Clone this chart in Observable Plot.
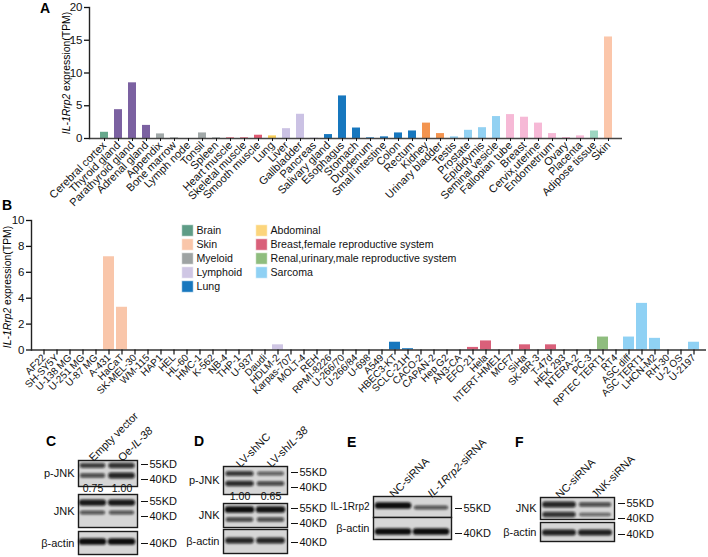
<!DOCTYPE html>
<html><head><meta charset="utf-8">
<script src="https://cdn.jsdelivr.net/npm/d3@7"></script>
<script src="https://cdn.jsdelivr.net/npm/@observablehq/plot@0.6"></script>
<style>
body{margin:0;background:#fff;}
#root{position:relative;width:708px;height:557px;overflow:hidden;background:#fff;font-family:Arial,"Liberation Sans",Helvetica,sans-serif;}
#root svg{position:absolute;overflow:visible;}
</style></head><body><div id="root"></div>
<script>
// ---------- Panel A: normal tissues ----------
const tissues = ["Cerebral cortex","Thyroid gland","Parathyroid gland","Adrenal gland","Appendix","Bone marrow","Lymph node","Tonsil","Spleen","Heart muscle","Skeletal muscle","Smooth muscle","Lung","Liver","Gallbladder","Pancreas","Salivary gland","Esophagus","Stomach","Duodenum","Small intestine","Colon","Rectum","Kidney","Urinary bladder","Testis","Prostate","Epididymis","Seminal vesicle","Fallopian tube","Breast","Cervix,uterine","Endometrium","Ovary","Placenta","Adipose tissue","Skin"];
const tissueTPM = [0.95,4.4,8.5,2.0,0.7,0.1,0,0.85,0.1,0.1,0.1,0.5,0.4,1.5,3.7,0.05,0.6,6.5,1.6,0.1,0.25,0.85,1.15,2.35,0.75,0.25,1.25,1.65,3.35,3.65,3.25,2.35,0.75,0.15,0.4,1.15,15.5];
const tissueGroup = ["Brain","Endocrine","Endocrine","Endocrine","Lymphoid","Lymphoid","Lymphoid","Lymphoid","Lymphoid","Muscle","Muscle","Muscle","Lung","Liver","Liver","Pancreas","GI","GI","GI","GI","GI","GI","GI","Kidney","Kidney","Male","Male","Male","Male","Female","Female","Female","Female","Female","Female","Adipose","Skin"];
const tissueGroupNames = ["Brain","Endocrine","Lymphoid","Muscle","Lung","Liver","Pancreas","GI","Kidney","Male","Female","Adipose","Skin"];
const tissueGroupColors = ["#66a88c","#7b61a1","#a2a9a9","#e05a72","#f7cd58","#cbc2e4","#cbc2e4","#1777be","#f3944f","#92d1f2","#f6b9d6","#9dd6c1","#fbc6aa"];

// ---------- Panel B: cell lines ----------
const cellLines = ["AF22","SH-SY5Y","U-138 MG","U-251 MG","U-87 MG","A-431","HaCaT","SK-MEL-30","WM-115","HAP1","HEL","HL-60","HMC-1","K-562","NB-4","THP-1","U-937","Daudi","HDLM-2","Karpas-707","MOLT-4","REH","RPMI-8226","U-266/70","U-266/84","U-698","A549","HBEC3-KT","SCLC-21H","CACO-2","CAPAN-2","Hep G2","AN3-CA","EFO-21","Hela","hTERT-HME1","MCF7","SiHa","SK-BR-3","T-47d","HEK 293","NTERA-2","PC-3","RPTEC TERT1","RT4","ASC diff","ASC TERT1","LHCN-M2","RH-30","U-2 OS","U-2197"];
const cellTPM = [0,0,0,0,0,7.2,3.3,0,0,0,0,0,0,0,0,0,0,0,0.4,0,0,0,0,0,0,0,0,0.6,0.1,0,0,0,0,0.2,0.7,0,0,0.4,0,0.4,0,0,0,1.0,0,1.0,3.6,0.9,0,0,0.6];
const cellGroup = ["Brain","Brain","Brain","Brain","Brain","Skin","Skin","Skin","Skin","Myeloid","Myeloid","Myeloid","Myeloid","Myeloid","Myeloid","Myeloid","Myeloid","Lymphoid","Lymphoid","Lymphoid","Lymphoid","Lymphoid","Lymphoid","Lymphoid","Lymphoid","Lymphoid","Lung","Lung","Lung","Abdominal","Abdominal","Abdominal","Breast,female reproductive system","Breast,female reproductive system","Breast,female reproductive system","Breast,female reproductive system","Breast,female reproductive system","Breast,female reproductive system","Breast,female reproductive system","Breast,female reproductive system","Renal,urinary,male reproductive system","Renal,urinary,male reproductive system","Renal,urinary,male reproductive system","Renal,urinary,male reproductive system","Renal,urinary,male reproductive system","Sarcoma","Sarcoma","Sarcoma","Sarcoma","Sarcoma","Sarcoma"];
const cellGroupNames = ["Brain","Skin","Myeloid","Lymphoid","Lung","Abdominal","Breast,female reproductive system","Renal,urinary,male reproductive system","Sarcoma"];
const cellGroupColors = ["#5e9c86","#f9c6aa","#9ea3a3","#cfc6e4","#1777be","#fcd57c","#d9607a","#8fbd7e","#8fd1f4"];

// ---------- Western blots (C-F) ----------
const blotC_lanes = ["Empty vector","Oe-IL-38"];
const blotC_ratio = ["0.75","1.00"];
const blotC_pJNK = [{lane:"Empty vector",kd:54,signal:0.6},{lane:"Empty vector",kd:44,signal:0.5},{lane:"Oe-IL-38",kd:54,signal:0.7},{lane:"Oe-IL-38",kd:44,signal:0.8}];
const blotC_JNK = [{lane:"Empty vector",kd:54,signal:0.9},{lane:"Empty vector",kd:44,signal:0.45},{lane:"Oe-IL-38",kd:54,signal:0.9},{lane:"Oe-IL-38",kd:44,signal:0.45}];
const blotC_actin = [{lane:"Empty vector",kd:42,signal:1.0},{lane:"Oe-IL-38",kd:42,signal:1.0}];

const blotD_lanes = ["LV-shNC","LV-shIL-38"];
const blotD_ratio = ["1.00","0.65"];
const blotD_pJNK = [{lane:"LV-shNC",kd:54,signal:0.65},{lane:"LV-shNC",kd:44,signal:0.75},{lane:"LV-shIL-38",kd:54,signal:0.35},{lane:"LV-shIL-38",kd:44,signal:0.55}];
const blotD_JNK = [{lane:"LV-shNC",kd:54,signal:1.0},{lane:"LV-shNC",kd:44,signal:0.55},{lane:"LV-shIL-38",kd:54,signal:0.95},{lane:"LV-shIL-38",kd:44,signal:0.5}];
const blotD_actin = [{lane:"LV-shNC",kd:42,signal:0.8},{lane:"LV-shIL-38",kd:42,signal:0.8}];

const blotE_lanes = ["NC-siRNA","IL-1Rrp2-siRNA"];
const blotE_target = [{lane:"NC-siRNA",kd:58,signal:1.0},{lane:"IL-1Rrp2-siRNA",kd:56,signal:0.45}];
const blotE_actin = [{lane:"NC-siRNA",kd:42,signal:1.0},{lane:"IL-1Rrp2-siRNA",kd:42,signal:1.0}];

const blotF_lanes = ["NC-siRNA","JNK-siRNA"];
const blotF_JNK = [{lane:"NC-siRNA",kd:54,signal:0.8},{lane:"NC-siRNA",kd:44,signal:0.7},{lane:"JNK-siRNA",kd:54,signal:0.5},{lane:"JNK-siRNA",kd:44,signal:0.3}];
const blotF_actin = [{lane:"NC-siRNA",kd:42,signal:0.85},{lane:"JNK-siRNA",kd:42,signal:0.85}];

const markersTwo = [55,40];
const markersOne = [40];
const markersTarget = [55];

// ---------- Drawing ----------
const FONT = 'Arial, "Liberation Sans", Helvetica, sans-serif';
const root = document.getElementById("root");
const baseStyle = {fontFamily: FONT, fontSize: "11px", background: "transparent", overflow: "visible", color: "#111"};

function place(svg, left, top) {
  svg.style.position = "absolute";
  svg.style.left = left + "px";
  svg.style.top = top + "px";
  svg.style.maxWidth = "none";
  root.appendChild(svg);
  return svg;
}

// filter defs for blot bands (userSpace so zero-height lines still render)
const defs = d3.select(root).append("svg").attr("width", 0).attr("height", 0).style("left", 0).style("top", 0);
const f = defs.append("defs").append("filter").attr("id", "bandblur")
  .attr("filterUnits", "userSpaceOnUse").attr("x", -200).attr("y", -200).attr("width", 1200).attr("height", 1200);
f.append("feGaussianBlur").attr("stdDeviation", 1.0);

// Panel A
const dataA = tissues.map((t, i) => ({tissue: t, tpm: tissueTPM[i], group: tissueGroup[i]}));
const plotA = Plot.plot({
  width: 708, height: 205,
  marginLeft: 89, marginRight: 86, marginTop: 7, marginBottom: 67,
  style: baseStyle,
  x: {domain: tissues, paddingInner: 0.45, paddingOuter: 0.2, axis: null},
  y: {domain: [0, 20]},
  color: {domain: tissueGroupNames, range: tissueGroupColors},
  marks: [
    Plot.barY(dataA, {x: "tissue", y: "tpm", fill: "group"}),
    Plot.ruleY([0], {stroke: "#444", strokeWidth: 1.4}),
    Plot.frame({anchor: "left", stroke: "#222", strokeWidth: 1.4}),
    Plot.axisX({tickRotate: -45, tickSize: 3, tickPadding: 2, fontSize: 11, label: null}),
    Plot.axisY([0, 5, 10, 15, 20], {tickSize: 5, tickPadding: 2, fontSize: 11.5, label: null, strokeWidth: 1.3})
  ]
});
place(plotA, 0, 0);

// Panel B
const dataB = cellLines.map((c, i) => ({cell: c, tpm: cellTPM[i], group: cellGroup[i]}));
const plotB = Plot.plot({
  width: 708, height: 220,
  marginLeft: 31, marginRight: 2, marginTop: 20, marginBottom: 70.5,
  style: baseStyle,
  x: {domain: cellLines, paddingInner: 0.12, paddingOuter: 0, axis: null},
  y: {domain: [0, 10]},
  color: {domain: cellGroupNames, range: cellGroupColors},
  marks: [
    Plot.barY(dataB, {x: "cell", y: "tpm", fill: "group"}),
    Plot.ruleY([0], {stroke: "#333", strokeWidth: 1.4}),
    Plot.frame({anchor: "left", stroke: "#222", strokeWidth: 1.4}),
    Plot.axisX({tickRotate: -45, tickSize: 5, tickPadding: 1, fontSize: 10, label: null, strokeWidth: 1.2}),
    Plot.axisY([0, 2, 4, 6, 8, 10], {tickSize: 5, tickPadding: 2, fontSize: 11.5, label: null, strokeWidth: 1.3})
  ]
});
place(plotB, 0, 200);

// Legend of panel B
const legendData = cellGroupNames.map((g, i) => ({group: g, col: i < 5 ? 0 : 1, row: i < 5 ? i : i - 5}));
const legend = Plot.plot({
  width: 320, height: 85, margin: 0,
  style: baseStyle,
  x: {type: "point", domain: [0, 1], range: [12, 86], padding: 0, axis: null},
  y: {type: "point", domain: [0, 1, 2, 3, 4], range: [13, 72], padding: 0, axis: null},
  color: {domain: cellGroupNames, range: cellGroupColors},
  marks: [
    Plot.dot(legendData, {x: "col", y: "row", symbol: "square", r: 6.5, fill: "group", stroke: "white", strokeWidth: 0.6}),
    Plot.text(legendData, {x: "col", y: "row", text: "group", dx: 9, textAnchor: "start", fontSize: 10.6})
  ]
});
place(legend, 175, 215);

// Blot rows
const italicParts = {
  "Oe-IL-38": [["Oe-", false], ["IL-38", true]],
  "LV-shIL-38": [["LV-sh", false], ["IL-38", true]],
  "IL-1Rrp2-siRNA": [["IL-1Rrp2", true], ["-siRNA", false]]
};
function italicize(svg) {
  svg.querySelectorAll("text").forEach(t => {
    const parts = italicParts[t.textContent];
    if (!parts || t.children.length) return;
    t.textContent = "";
    parts.forEach(([s, it]) => {
      const ts = document.createElementNS("http://www.w3.org/2000/svg", "tspan");
      ts.textContent = s;
      if (it) ts.setAttribute("font-style", "italic");
      t.appendChild(ts);
    });
  });
}

function blotRow({lanes, bands, label, labelSize = 11, markers, domain, box, laneLabels, ratios}) {
  const [x0, y0, x1, y1] = box;
  const mL = 80, mR = 60, mT = laneLabels ? 70 : 0, mB = ratios ? 12 : 0;
  const width = x1 - x0 + mL + mR, height = y1 - y0 + mT + mB;
  const marks = [
    Plot.frame({fill: "#d6d6d6", stroke: "#1b1b1b", strokeWidth: 1.4}),
    Plot.tickY(bands, {x: "lane", y: "kd", stroke: "#0c0c0c",
      strokeOpacity: d => 0.4 + 0.6 * d.signal,
      strokeWidth: d => 2.2 + 4.5 * d.signal, strokeLinecap: "round", inset: 3}),
    Plot.text([label], {frameAnchor: "left", dx: -4, textAnchor: "end", fontSize: labelSize}),
    Plot.axisY(markers, {anchor: "right", tickFormat: d => d + "KD", tickSize: 7, tickPadding: 2, dx: 3, fontSize: 11, label: null})
  ];
  if (laneLabels) marks.push(Plot.text(lanes, {x: d => d, frameAnchor: "top", rotate: -45, textAnchor: "start", dx: -5, dy: -4, fontSize: 11}));
  if (ratios) marks.push(Plot.text(lanes, {x: d => d, text: (d, i) => ratios[i], frameAnchor: "bottom", dy: 5, fontSize: 10.5}));
  const svg = Plot.plot({
    width, height, marginLeft: mL, marginRight: mR, marginTop: mT, marginBottom: mB,
    style: baseStyle,
    x: {domain: lanes, paddingInner: 0.06, paddingOuter: 0.04, axis: null},
    y: {domain},
    marks
  });
  svg.querySelectorAll('g[aria-label="tick"] line').forEach(l => l.setAttribute("filter", "url(#bandblur)"));
  italicize(svg);
  place(svg, x0 - mL, y0 - mT);
}

// C
blotRow({lanes: blotC_lanes, bands: blotC_pJNK, label: "p-JNK", markers: markersTwo, domain: [33, 59], box: [78, 460, 137, 486], laneLabels: true, ratios: blotC_ratio});
blotRow({lanes: blotC_lanes, bands: blotC_JNK, label: "JNK", markers: markersTwo, domain: [29, 62], box: [78, 494, 137, 527]});
blotRow({lanes: blotC_lanes, bands: blotC_actin, label: "β-actin", markers: markersOne, domain: [29, 52], box: [78, 531, 137, 554]});
// D
blotRow({lanes: blotD_lanes, bands: blotD_pJNK, label: "p-JNK", markers: markersTwo, domain: [33, 61], box: [223, 466, 287, 494], laneLabels: true, ratios: blotD_ratio});
blotRow({lanes: blotD_lanes, bands: blotD_JNK, label: "JNK", markers: markersTwo, domain: [36, 60], box: [223, 503, 287, 527]});
blotRow({lanes: blotD_lanes, bands: blotD_actin, label: "β-actin", markers: markersOne, domain: [29, 53], box: [223, 529, 287, 553]});
// E
blotRow({lanes: blotE_lanes, bands: blotE_target, label: "IL-1Rrp2", labelSize: 10, markers: markersTarget, domain: [46, 67], box: [373, 496, 451, 517], laneLabels: true});
blotRow({lanes: blotE_lanes, bands: blotE_actin, label: "β-actin", markers: markersOne, domain: [34, 56], box: [373, 517, 451, 539]});
// F
blotRow({lanes: blotF_lanes, bands: blotF_JNK, label: "JNK", markers: markersTwo, domain: [39, 61], box: [540, 497, 614, 519], laneLabels: true});
blotRow({lanes: blotF_lanes, bands: blotF_actin, label: "β-actin", markers: markersOne, domain: [33, 52], box: [540, 522, 614, 541]});

// Overlay: panel letters and y-axis titles
const ov = d3.select(root).append("svg").attr("width", 708).attr("height", 557)
  .style("left", "0px").style("top", "0px").style("pointer-events", "none")
  .style("font-family", FONT);
[["A", 40, 13], ["B", 2, 210], ["C", 46, 446], ["D", 194, 446], ["E", 347, 447], ["F", 515, 447]].forEach(([t, x, y]) => {
  ov.append("text").attr("x", x).attr("y", y).attr("font-size", 14).attr("font-weight", "bold").text(t);
});
function yTitle(cx, cy) {
  const t = ov.append("text").attr("transform", `translate(${cx},${cy}) rotate(-90)`)
    .attr("text-anchor", "middle").attr("dominant-baseline", "middle").attr("font-size", 10.4);
  t.append("tspan").attr("font-style", "italic").text("IL-1Rrp2");
  t.append("tspan").text(" expression(TPM)");
}
yTitle(67, 73);
yTitle(8, 287);
</script></body></html>
